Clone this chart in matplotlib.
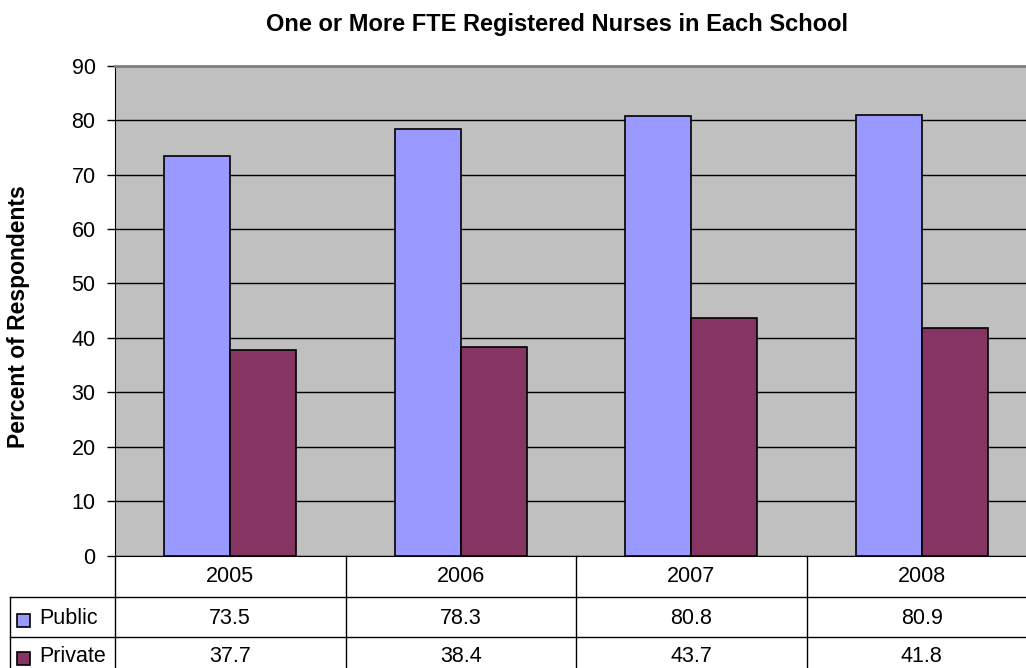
import matplotlib
matplotlib.use('Agg')
import matplotlib.pyplot as plt
import matplotlib.transforms as mtransforms

plt.rcParams['font.family'] = ['Liberation Sans', 'DejaVu Sans']

years = ['2005', '2006', '2007', '2008']
public = [73.5, 78.3, 80.8, 80.9]
private = [37.7, 38.4, 43.7, 41.8]
series = ['Public', 'Private']
colors = ['#9999FF', '#863562']

W, H = 1026, 668
fig = plt.figure(figsize=(W / 100, H / 100), dpi=100)

# plot area in pixels (runs a bit past the right edge like the original)
left, right, top, bottom = 115, 1037, 65.7, 555.7
ax = fig.add_axes([left / W, 1 - bottom / H, (right - left) / W, (bottom - top) / H])
ax.set_facecolor('#C0C0C0')

x = list(range(len(years)))
w = 0.286
ax.bar([i - w / 2 for i in x], public, width=w, color=colors[0], edgecolor='black', linewidth=1.2, zorder=3)
ax.bar([i + w / 2 for i in x], private, width=w, color=colors[1], edgecolor='black', linewidth=1.2, zorder=3)

ax.set_xlim(-0.5, len(years) - 0.5)
ax.set_ylim(0, 90)
ax.set_yticks(range(0, 91, 10))
ax.yaxis.grid(True, color='black', linewidth=1.0)
ax.set_axisbelow(True)
ax.set_xticks([])
ax.tick_params(axis='y', labelsize=15.5, length=6, width=1, direction='out', pad=8)
ax.spines['top'].set_color('#808080')
ax.spines['top'].set_linewidth(2)
ax.spines['right'].set_visible(False)
ax.spines['left'].set_color('black')
ax.spines['bottom'].set_color('black')

fig.text(18.5 / W, 1 - 317 / H, 'Percent of Respondents', rotation=90,
         ha='center', va='center', fontsize=16.5, fontweight='bold')
fig.text(557 / W, 1 - 25 / H, 'One or More FTE Registered Nurses in Each School',
         ha='center', va='center', fontsize=17, fontweight='bold')

# data table under the plot
fy = lambda py: 1 - py / H
trans = mtransforms.blended_transform_factory(ax.transData, fig.transFigure)
row_lines = [597, 637]
row_base = [582, 623.5, 662]
tbl_bottom = 680

for yy in row_lines:
    fig.add_artist(plt.Line2D([10 / W, 1], [fy(yy), fy(yy)], color='black', linewidth=1.0))
fig.add_artist(plt.Line2D([10 / W, 10 / W], [fy(597), fy(tbl_bottom)], color='black', linewidth=1.0))
for i in range(len(years) + 1):
    ax.add_artist(plt.Line2D([i - 0.5, i - 0.5], [fy(bottom), fy(tbl_bottom)], color='black',
                             linewidth=1.0, transform=trans, clip_on=False))

for i, yr in enumerate(years):
    fig.text(i, fy(row_base[0]), yr, transform=trans, ha='center', va='baseline', fontsize=15.5)
    fig.text(i, fy(row_base[1]), f'{public[i]:.1f}', transform=trans, ha='center', va='baseline', fontsize=15.5)
    fig.text(i, fy(row_base[2]), f'{private[i]:.1f}', transform=trans, ha='center', va='baseline', fontsize=15.5)

for j, name in enumerate(series):
    base = row_base[j + 1]
    fig.add_artist(plt.Rectangle((17 / W, fy(base + 3)), 13 / W, 13 / H, facecolor=colors[j],
                                 edgecolor='black', linewidth=1.2))
    fig.text(39 / W, fy(base), name, ha='left', va='baseline', fontsize=15.5)

fig.savefig('out.png', dpi=100)
